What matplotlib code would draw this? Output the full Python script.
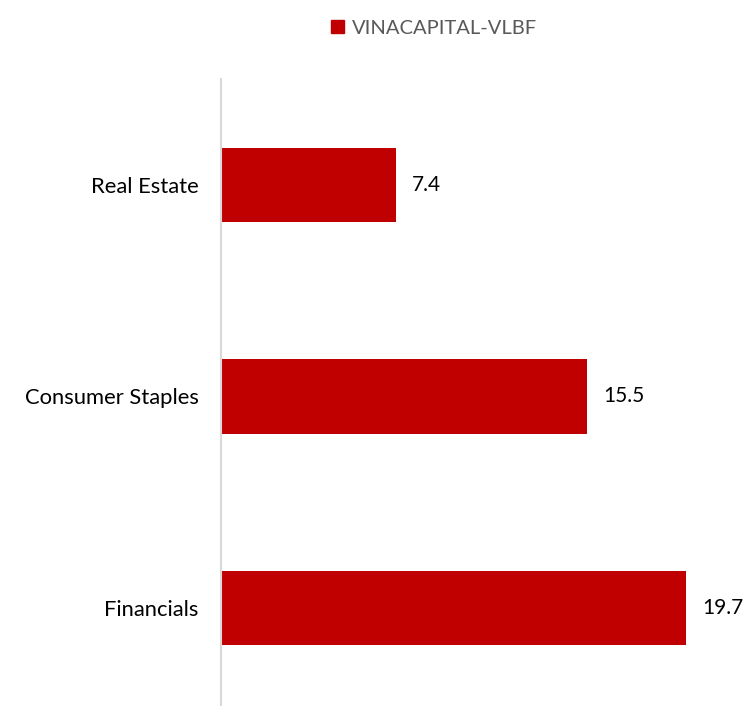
import matplotlib.pyplot as plt
from matplotlib.patches import Patch

# data
sectors = ["Financials", "Consumer Staples", "Real Estate"]
values = [19.7, 15.5, 7.4]
series_name = "VINACAPITAL-VLBF"

W, H = 747, 706
fig = plt.figure(figsize=(W / 100, H / 100), dpi=100)
plt.rcParams['font.family'] = ['Lato', 'DejaVu Sans']

# axes placed by pixels: left at x=221, top at y=79, ~23.6 px per unit
left = 221 / W
top = 79 / H
ax_h = 635 / H
ax_w = 22 * 23.6 / W
ax = fig.add_axes([left, 1 - top - ax_h, ax_w, ax_h])

bars = ax.barh(range(len(sectors)), values, height=0.35, color="#C00000", label=series_name)
ax.set_xlim(0, 22)
ax.set_ylim(-0.5, 2.5)
ax.set_yticks(range(len(sectors)))
ax.set_yticklabels(sectors, fontsize=15.8, color="black")
ax.tick_params(axis="y", length=0, pad=16)
ax.set_xticks([])
for s in ["top", "right", "bottom"]:
    ax.spines[s].set_visible(False)
ax.spines["left"].set_color("#d9d9d9")
ax.spines["left"].set_linewidth(1.5)

for b, v in zip(bars, values):
    ax.annotate(f"{v:.1f}", (b.get_width(), b.get_y() + b.get_height() / 2),
                xytext=(11.5, 0), textcoords="offset points", va="center", ha="left",
                fontsize=15, color="black")

leg = fig.legend(handles=[Patch(color="#C00000", label=series_name)],
                 loc="center", bbox_to_anchor=(434 / W, 1 - 28 / H), frameon=False,
                 fontsize=14.5, handlelength=0.65, handleheight=0.65, handletextpad=0.4)
for t in leg.get_texts():
    t.set_color("#595959")

fig.savefig("out.png", dpi=100)
